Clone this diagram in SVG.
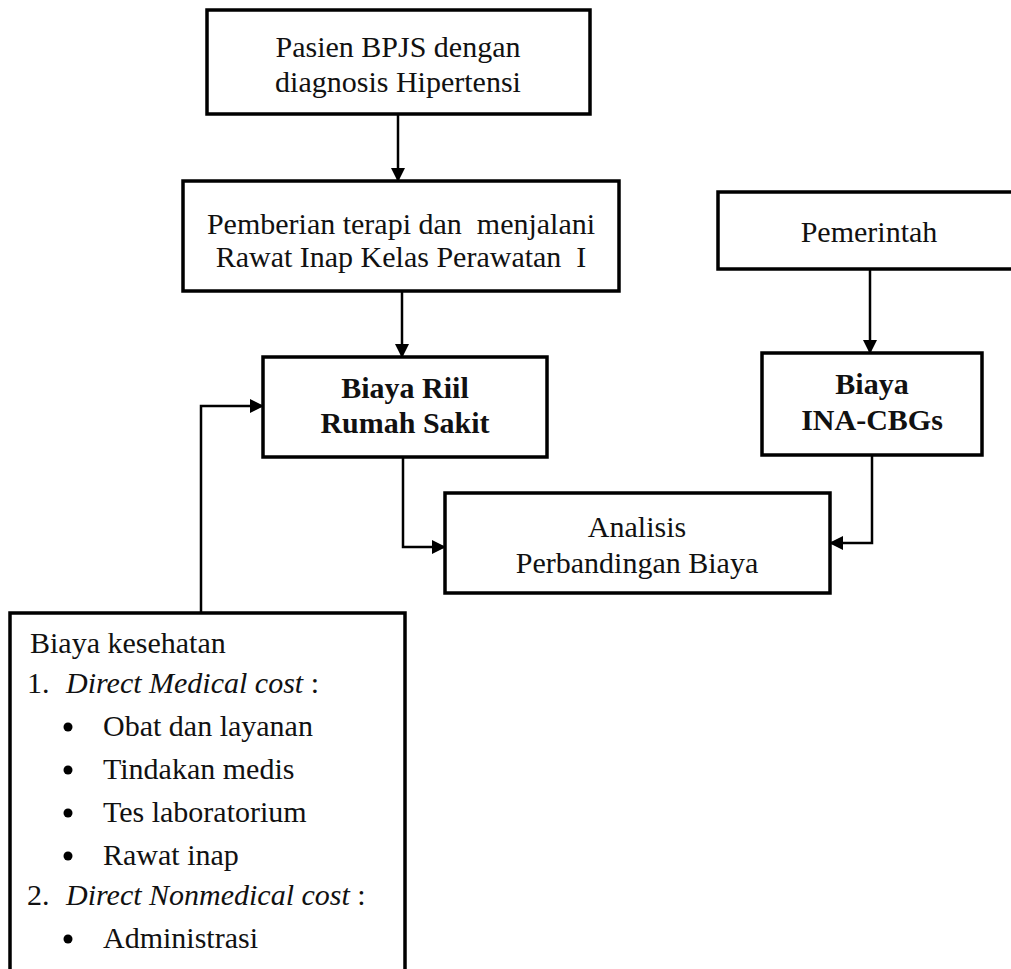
<svg xmlns="http://www.w3.org/2000/svg" width="1011" height="969" viewBox="0 0 1011 969">
<defs>
<marker id="ah" markerUnits="userSpaceOnUse" markerWidth="14" markerHeight="14" viewBox="0 0 14 14" refX="13" refY="7" orient="auto">
<path d="M0,0 L14,7 L0,14 Z" fill="#000"/>
</marker>
<style>
.box{fill:#fff;stroke:#000;stroke-width:3.5}
.t{font-family:"Liberation Serif","Times New Roman",serif;font-size:30px;fill:#111;white-space:pre}
.c{text-anchor:middle}
.b{font-weight:bold}
.i{font-style:italic}
.con{fill:none;stroke:#000;stroke-width:2.5}
</style>
</defs>
<rect width="1011" height="969" fill="#fff"/>
<g id="connectors">
<path class="con" d="M398,114 V181" marker-end="url(#ah)"/>
<path class="con" d="M402,292 V357" marker-end="url(#ah)"/>
<path class="con" d="M870,269 V353" marker-end="url(#ah)"/>
<path class="con" d="M201,613 V406 H263" marker-end="url(#ah)"/>
<path class="con" d="M403,456 V547 H445" marker-end="url(#ah)"/>
<path class="con" d="M872,455 V543 H830" marker-end="url(#ah)"/>
</g>
<g id="pasien">
<rect class="box" x="207" y="10" width="383" height="104"/>
<text class="t c" x="398" y="57">Pasien BPJS dengan</text>
<text class="t c" x="398" y="92">diagnosis Hipertensi</text>
</g>
<g id="terapi">
<rect class="box" x="183" y="181" width="436" height="110"/>
<text class="t c" x="401" y="234">Pemberian terapi dan  menjalani</text>
<text class="t c" x="401" y="267">Rawat Inap Kelas Perawatan  I</text>
</g>
<g id="pemerintah">
<rect class="box" x="718" y="192" width="320" height="77"/>
<text class="t c" x="869" y="242">Pemerintah</text>
</g>
<g id="biaya-riil">
<rect class="box" x="263" y="357" width="284" height="100"/>
<text class="t c b" x="405" y="398">Biaya Riil</text>
<text class="t c b" x="405" y="433">Rumah Sakit</text>
</g>
<g id="biaya-ina">
<rect class="box" x="762" y="353" width="220" height="102"/>
<text class="t c b" x="872" y="394">Biaya</text>
<text class="t c b" x="872" y="430">INA-CBGs</text>
</g>
<g id="analisis">
<rect class="box" x="445" y="493" width="385" height="100"/>
<text class="t c" x="637" y="537">Analisis</text>
<text class="t c" x="637" y="573">Perbandingan Biaya</text>
</g>
<g id="biaya-kesehatan">
<rect class="box" x="10" y="613" width="395" height="380"/>
<text class="t" x="30" y="653">Biaya kesehatan</text>
<text class="t" x="27" y="693">1.</text>
<text class="t" x="66" y="693"><tspan class="i">Direct Medical cost</tspan> :</text>
<circle cx="68" cy="727" r="4.5" fill="#000"/>
<text class="t" x="103" y="736">Obat dan layanan</text>
<circle cx="68" cy="770" r="4.5" fill="#000"/>
<text class="t" x="103" y="779">Tindakan medis</text>
<circle cx="68" cy="813" r="4.5" fill="#000"/>
<text class="t" x="103" y="822">Tes laboratorium</text>
<circle cx="68" cy="856" r="4.5" fill="#000"/>
<text class="t" x="103" y="865">Rawat inap</text>
<text class="t" x="27" y="905">2.</text>
<text class="t" x="66" y="905"><tspan class="i">Direct Nonmedical cost</tspan> :</text>
<circle cx="68" cy="939" r="4.5" fill="#000"/>
<text class="t" x="103" y="948">Administrasi</text>
</g>
</svg>
